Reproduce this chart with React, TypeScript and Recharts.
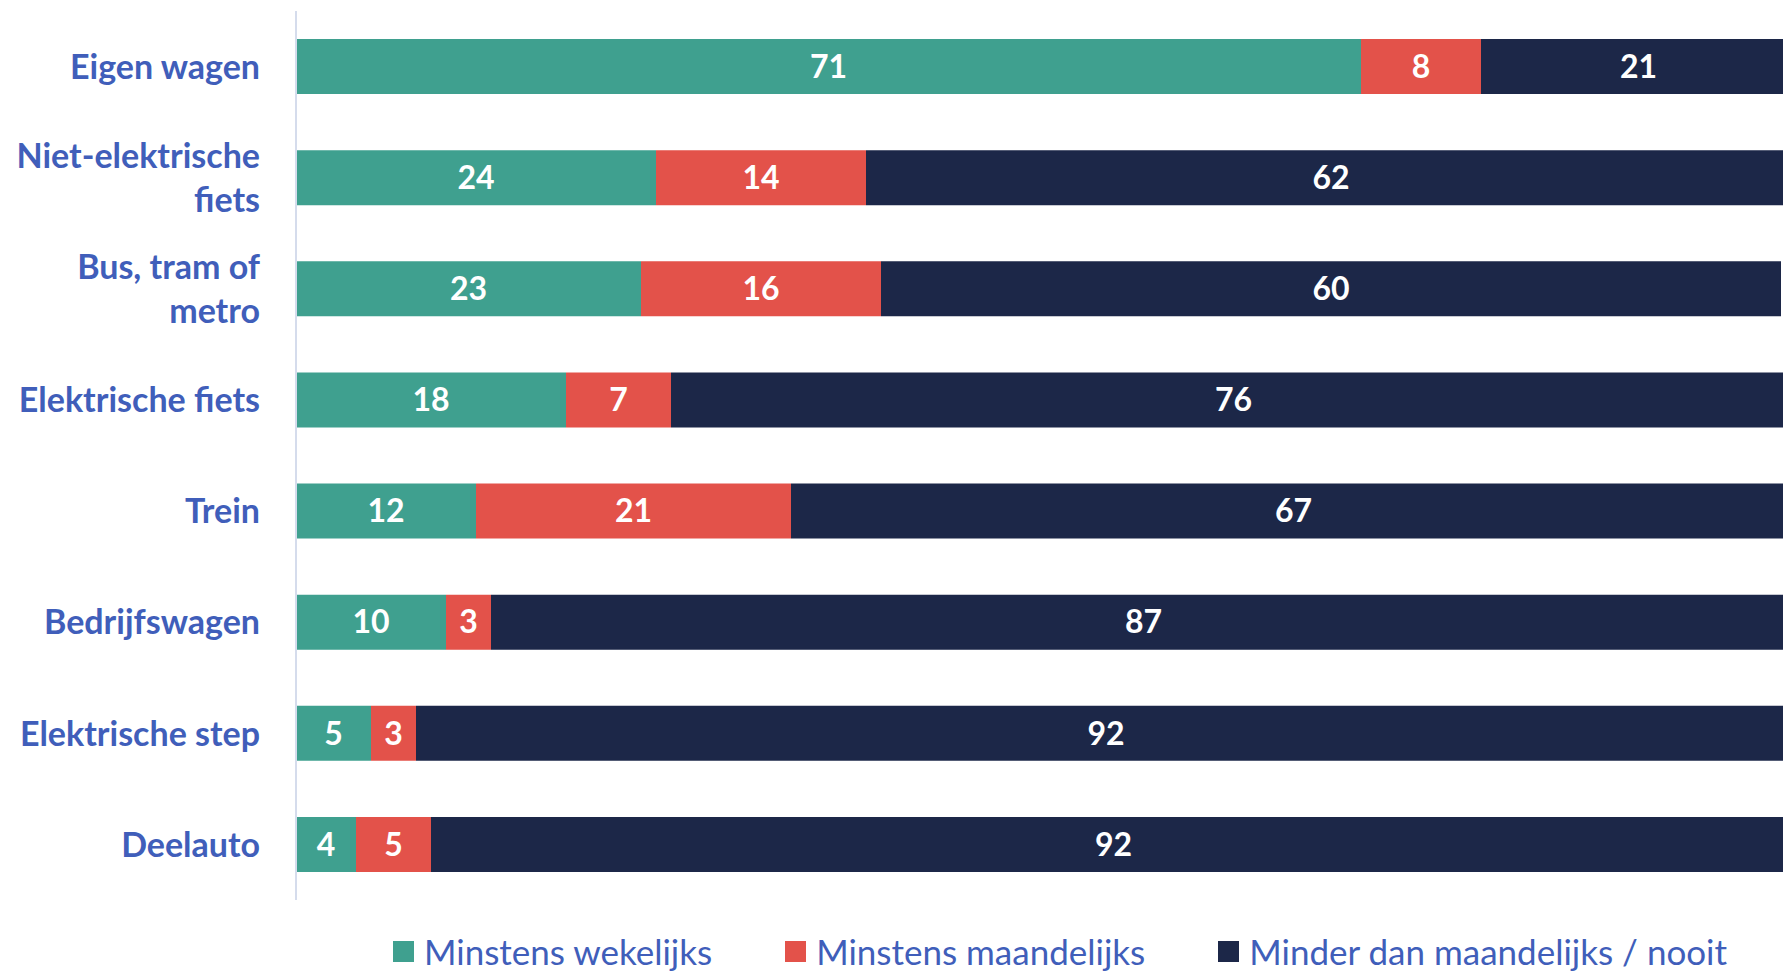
import { BarChart, Bar, XAxis, YAxis, LabelList, Legend } from 'recharts'

const categories = [
  'Eigen wagen',
  'Niet-elektrische fiets',
  'Bus, tram of metro',
  'Elektrische fiets',
  'Trein',
  'Bedrijfswagen',
  'Elektrische step',
  'Deelauto',
]
const weekly = [71, 24, 23, 18, 12, 10, 5, 4]
const monthly = [8, 14, 16, 7, 21, 3, 3, 5]
const rarely = [21, 62, 60, 76, 67, 87, 92, 92]

const seriesNames = ['Minstens wekelijks', 'Minstens maandelijks', 'Minder dan maandelijks / nooit']
const colors = ['#3FA08F', '#E3524A', '#1C2748']
const textBlue = '#405EBA'
const font = 'Lato, "Open Sans", sans-serif'

const data = categories.map((name, i) => ({
  name,
  weekly: weekly[i],
  monthly: monthly[i],
  rarely: rarely[i],
}))

// break long labels into lines, like the original wraps them
function wrap(label: string, max = 17) {
  const words = label.split(' ')
  const lines: string[] = []
  let cur = ''
  for (const w of words) {
    const next = cur ? cur + ' ' + w : w
    if (next.length > max && cur) {
      lines.push(cur)
      cur = w
    } else cur = next
  }
  if (cur) lines.push(cur)
  return lines
}

function CategoryTick(props: any) {
  const { x, y, payload } = props
  const lines = wrap(payload.value)
  const lh = 44
  const start = -((lines.length - 1) * lh) / 2
  return (
    <text x={x} y={y} textAnchor="end" fill={textBlue} fontFamily={font} fontWeight={700} fontSize={34}>
      {lines.map((l, i) => (
        <tspan key={i} x={x} y={y + start + i * lh} dy="0.36em">{l}</tspan>
      ))}
    </text>
  )
}

function LegendContent() {
  return (
    <div style={{ display: 'flex', alignItems: 'center', gap: 73, fontFamily: font, fontSize: 35, lineHeight: '34px', color: textBlue, whiteSpace: 'nowrap' }}>
      {seriesNames.map((s, i) => (
        <div key={s} style={{ display: 'flex', alignItems: 'center' }}>
          <span style={{ display: 'inline-block', width: 21, height: 21, background: colors[i], marginRight: 10 }} />
          <span>{s}</span>
        </div>
      ))}
    </div>
  )
}

export default function App() {
  const keys = ['weekly', 'monthly', 'rarely']
  return (
    <div style={{ position: 'fixed', left: 0, top: 0, width: 1783, height: 973, overflow: 'hidden', background: '#fff' }}>
      <BarChart
        width={1800}
        height={973}
        data={data}
        layout="vertical"
        margin={{ top: 11, right: 4, bottom: 73, left: 0 }}
        barSize={55}
      >
        <XAxis type="number" domain={[0, 100]} allowDataOverflow hide />
        <YAxis
          type="category"
          dataKey="name"
          width={296}
          tickSize={0}
          tickMargin={36}
          tickLine={false}
          axisLine={{ stroke: '#D5DCEC', strokeWidth: 2 }}
          tick={<CategoryTick />}
          interval={0}
        />
        <Legend
          layout="horizontal"
          verticalAlign="middle"
          align="center"
          content={<LegendContent />}
          wrapperStyle={{ position: 'absolute', top: 934, left: 393, width: 'auto', height: 'auto' }}
        />
        {keys.map((k, i) => (
          <Bar key={k} dataKey={k} name={seriesNames[i]} stackId="a" fill={colors[i]} isAnimationActive={false}>
            <LabelList dataKey={k} position="center" fill="#fff" fontFamily={font} fontWeight={700} fontSize={32} />
          </Bar>
        ))}
      </BarChart>
    </div>
  )
}
